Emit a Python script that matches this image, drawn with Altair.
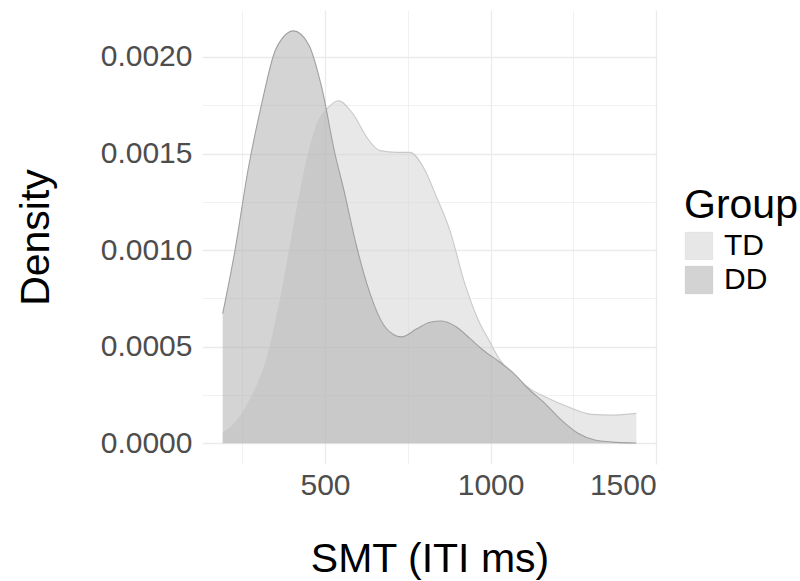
import altair as alt
import pandas as pd

# Kernel density estimates of SMT (inter-tap interval, ms) by group
td_x = [191, 228, 268, 329, 369, 409, 450, 480, 510, 540, 585, 626, 666, 716,
        756, 797, 837, 877, 922, 963, 998, 1028, 1063, 1123, 1164, 1234, 1305,
        1365, 1440]
td_density = [0.000052, 0.000105, 0.000208, 0.000466, 0.000776, 0.001153, 0.001499,
              0.001670, 0.001739, 0.001773, 0.001704, 0.001584, 0.001515, 0.001506,
              0.001506, 0.001429, 0.001274, 0.001102, 0.000828, 0.000637, 0.000525,
              0.000432, 0.000368, 0.000278, 0.000241, 0.000189, 0.000150, 0.000146,
              0.000155]

dd_x = [191, 228, 268, 309, 349, 369, 404, 450, 490, 530, 555, 596, 636, 676, 705,
        731, 777, 817, 852, 897, 938, 978, 1028, 1070, 1113, 1164, 1214, 1264, 1315,
        1380, 1440]
dd_density = [0.000671, 0.000998, 0.001420, 0.001760, 0.002031, 0.002092, 0.002135,
              0.002066, 0.001842, 0.001499, 0.001325, 0.001015, 0.000775, 0.000615,
              0.000565, 0.000551, 0.000593, 0.000627, 0.000633, 0.000602, 0.000542,
              0.000482, 0.000420, 0.000362, 0.000284, 0.000207, 0.000120, 0.000052,
              0.000017, 0.000005, 0.000002]

groups = ["TD", "DD"]
fill_colors = ["#d1d1d1", "#a9a9a9"]
line_colors = ["#c9c9c9", "#a0a0a0"]

x_ticks = [250, 500, 750, 1000, 1250, 1500]
y_ticks = [0, 0.00025, 0.0005, 0.00075, 0.001, 0.00125, 0.0015, 0.00175, 0.002]

df = pd.concat([
    pd.DataFrame({"SMT": td_x, "Density": td_density, "Group": "TD"}),
    pd.DataFrame({"SMT": dd_x, "Density": dd_density, "Group": "DD"}),
])

FONT = "Liberation Sans"
Y_MAJOR = "round(datum.value * 100000) % 50 === 0"

x_enc = alt.X(
    "SMT:Q",
    scale=alt.Scale(domain=[128.5, 1502.5], nice=False, zero=False),
    axis=alt.Axis(
        title="SMT (ITI ms)",
        values=x_ticks,
        format="d",
        labelExpr="datum.value % 500 === 0 ? datum.label : ''",
        grid=True,
        gridColor="#ebebeb",
        gridWidth={"condition": {"test": "datum.value % 500 === 0", "value": 1.3},
                   "value": 0.7},
        domain=False,
        ticks=False,
        tickSize=0,
        labelFont=FONT,
        labelFontSize=30,
        labelColor="#4d4d4d",
        labelPadding=6,
        titleFont=FONT,
        titleFontSize=41,
        titleFontWeight="normal",
        titleColor="#000000",
        titleBaseline="alphabetic",
        titleY=107,
    ),
)

y_enc = alt.Y(
    "Density:Q",
    scale=alt.Scale(domain=[-0.0001068, 0.002243], nice=False, zero=False),
    axis=alt.Axis(
        title="Density",
        values=y_ticks,
        format=".4f",
        labelExpr=Y_MAJOR + " ? datum.label : ''",
        grid=True,
        gridColor="#ebebeb",
        gridWidth={"condition": {"test": Y_MAJOR, "value": 1.3}, "value": 0.7},
        domain=False,
        ticks=False,
        tickSize=0,
        labelFont=FONT,
        labelFontSize=30,
        labelColor="#4d4d4d",
        labelPadding=10,
        titleFont=FONT,
        titleFontSize=41,
        titleFontWeight="normal",
        titleColor="#000000",
        titleBaseline="alphabetic",
        titleAngle=270,
        titleX=-154,
    ),
)

areas = alt.Chart(df).mark_area(interpolate="monotone", opacity=0.5).encode(
    x=x_enc,
    y=y_enc,
    y2=alt.datum(0),
    fill=alt.Fill(
        "Group:N",
        scale=alt.Scale(domain=groups, range=fill_colors),
        legend=alt.Legend(
            title="Group",
            orient="none",
            legendX=482,
            legendY=176,
            titleFont=FONT,
            titleFontSize=41,
            titleFontWeight="normal",
            titleColor="#000000",
            titlePadding=4,
            labelFont=FONT,
            labelFontSize=30,
            labelColor="#000000",
            labelOffset=10,
            symbolType="square",
            symbolSize=740,
            symbolOpacity=0.5,
            symbolStrokeColor="#b8b8b8",
            symbolStrokeWidth=1,
            rowPadding=2,
        ),
    ),
    order=alt.Order("Group:N", sort="descending"),
)

outlines = alt.Chart(df).mark_line(interpolate="monotone", strokeWidth=1.1).encode(
    x=x_enc,
    y=y_enc,
    stroke=alt.Stroke("Group:N", scale=alt.Scale(domain=groups, range=line_colors),
                      legend=None),
)

chart = (
    alt.layer(areas, outlines)
    .properties(
        width=455,
        height=454,
        padding={"left": 202, "top": 10, "right": 143, "bottom": 117},
        autosize=alt.AutoSizeParams(type="none"),
        background="#ffffff",
    )
    .configure_view(stroke=None)
)

chart.save("out.html", embed_options={"renderer": "svg", "actions": False})
